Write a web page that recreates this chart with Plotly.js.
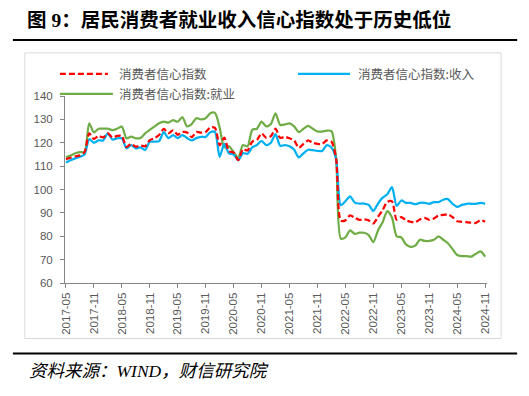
<!DOCTYPE html>
<html><head><meta charset="utf-8">
<script src="https://cdn.plot.ly/plotly-3.0.1.min.js"></script>
<style>html,body{margin:0;padding:0;background:#fff;} #chart{width:529px;height:396px;}</style>
</head><body><div id="chart"></div>
<script>
const months = [
'2017-05','2017-06','2017-07','2017-08','2017-09','2017-10','2017-11','2017-12',
'2018-01','2018-02','2018-03','2018-04','2018-05','2018-06','2018-07','2018-08','2018-09','2018-10','2018-11','2018-12',
'2019-01','2019-02','2019-03','2019-04','2019-05','2019-06','2019-07','2019-08','2019-09','2019-10','2019-11','2019-12',
'2020-01','2020-02','2020-03','2020-04','2020-05','2020-06','2020-07','2020-08','2020-09','2020-10','2020-11','2020-12',
'2021-01','2021-02','2021-03','2021-04','2021-05','2021-06','2021-07','2021-08','2021-09','2021-10','2021-11','2021-12',
'2022-01','2022-02','2022-03','2022-04','2022-05','2022-06','2022-07','2022-08','2022-09','2022-10','2022-11','2022-12',
'2023-01','2023-02','2023-03','2023-04','2023-05','2023-06','2023-07','2023-08','2023-09','2023-10','2023-11','2023-12',
'2024-01','2024-02','2024-03','2024-04','2024-05','2024-06','2024-07','2024-08','2024-09','2024-10','2024-11'];

const tickMonths = ['2017-05','2017-11','2018-05','2018-11','2019-05','2019-11','2020-05','2020-11',
'2021-05','2021-11','2022-05','2022-11','2023-05','2023-11','2024-05','2024-11'];

const cciTotal = [
113.0,113.6,114.2,114.6,116.0,124.0,121.6,122.9,
122.3,124.0,122.3,122.9,122.9,118.2,119.5,118.3,118.8,118.5,121.1,121.9,
123.3,125.9,124.1,125.3,123.4,124.6,124.4,122.4,124.6,124.3,124.6,126.6,
126.4,118.9,122.2,116.4,115.8,112.6,117.2,116.7,120.5,121.2,124.0,122.1,
122.8,126.0,122.1,122.5,121.9,121.0,117.8,119.5,121.0,120.0,119.5,119.5,
121.0,120.5,113.2,86.7,86.8,88.9,87.9,87.0,87.2,86.8,85.5,88.3,
91.2,94.7,94.9,87.1,88.2,86.8,86.2,86.0,87.2,87.9,87.0,87.6,
88.9,89.1,89.4,88.2,86.4,86.2,86.0,85.8,85.7,86.9,86.2];

const cciIncome = [
111.5,112.5,113.3,114.0,115.0,121.5,120.0,121.0,
121.0,124.0,121.4,121.9,121.9,117.6,119.0,117.6,118.0,116.9,120.4,120.5,
120.7,124.5,122.0,123.3,122.0,123.3,122.0,121.0,122.0,122.5,122.5,124.5,
124.6,114.0,119.5,115.5,115.0,112.5,115.5,115.3,118.0,119.0,120.8,119.0,
120.0,123.7,118.7,119.0,118.5,117.0,113.7,115.5,117.0,116.8,116.5,116.5,
119.0,118.0,113.0,93.3,95.0,97.1,94.4,94.0,94.0,93.4,90.8,94.0,
96.5,98.0,101.0,93.0,95.3,94.3,94.3,93.7,94.3,94.3,93.9,94.6,
94.6,95.6,95.9,93.9,92.6,93.4,93.9,93.9,93.9,94.3,94.0];

const cciJob = [
113.8,114.5,115.5,116.0,116.0,128.3,124.4,126.0,
126.0,126.0,125.4,126.0,126.9,121.9,122.6,121.9,122.0,124.0,125.5,126.9,
128.3,129.0,128.6,129.7,129.0,131.0,127.0,128.0,130.5,130.0,130.5,132.6,
132.8,126.5,118.0,118.5,116.0,113.5,119.0,118.5,125.5,126.0,129.0,127.0,
128.0,132.6,127.6,127.8,128.3,127.0,124.5,126.0,127.2,126.0,124.8,124.8,
125.2,125.0,113.5,79.0,79.5,82.5,81.0,81.5,81.5,80.5,77.5,82.5,
86.0,90.8,88.0,80.0,79.5,76.5,75.5,76.0,78.5,78.0,78.0,78.5,
80.0,78.5,77.0,74.5,72.0,71.5,71.5,71.3,72.5,73.5,71.3];

const seriesNames = ['消费者信心指数','消费者信心指数:收入','消费者信心指数:就业'];
const yTicks = [60,70,80,90,100,110,120,130,140];

const W = 529, H = 396;
const plotL = 65.1, plotR = 486.9, plotT = 96, plotB = 282.6;
function px(x){ return (x - plotL) / (plotR - plotL); }
function py(y){ return (plotB - y) / (plotB - plotT); }

const RED = '#FF0000', BLUE = '#00B0F0', GREEN = '#70AD47';
const GRAY = '#595959';

const traces = [
  {x: months, y: cciJob, name: seriesNames[2], type: 'scatter', mode: 'lines',
   line: {color: GREEN, width: 2.25, shape: 'spline', smoothing: 0.7}},
  {x: months, y: cciIncome, name: seriesNames[1], type: 'scatter', mode: 'lines',
   line: {color: BLUE, width: 2.25, shape: 'spline', smoothing: 0.7}},
  {x: months, y: cciTotal, name: seriesNames[0], type: 'scatter', mode: 'lines',
   line: {color: RED, width: 2.25, dash: '6px,3px', shape: 'spline', smoothing: 0.7}}
];

const legendItems = [
  {name: seriesNames[0], color: RED, dash: '6px,3px', x0: 60, x1: 108, y: 74, tx: 117},
  {name: seriesNames[1], color: BLUE, dash: 'solid', x0: 298, x1: 350, y: 74, tx: 356},
  {name: seriesNames[2], color: GREEN, dash: 'solid', x0: 60, x1: 113, y: 94, tx: 117}
];

const shapes = [
  {type: 'line', xref: 'paper', yref: 'paper', x0: px(13), x1: px(517), y0: py(40), y1: py(40),
   line: {color: '#000', width: 2}},
  {type: 'rect', xref: 'paper', yref: 'paper', x0: px(25), x1: px(501), y0: py(53), y1: py(338),
   line: {color: '#D9D9D9', width: 1}, layer: 'below'},
  {type: 'line', xref: 'paper', yref: 'paper', x0: px(13), x1: px(517), y0: py(353), y1: py(353),
   line: {color: '#000', width: 2}}
];
const annotations = [
  {xref: 'paper', yref: 'paper', x: px(27), y: py(370), xanchor: 'left', yanchor: 'middle',
   text: '<i>资料来源：WIND，财信研究院</i>', showarrow: false,
   font: {family: '"Liberation Serif", "Noto Sans CJK SC", serif', size: 17.5, color: '#000'}}
];
legendItems.forEach(it => {
  shapes.push({type: 'line', xref: 'paper', yref: 'paper', x0: px(it.x0), x1: px(it.x1),
    y0: py(it.y), y1: py(it.y), line: {color: it.color, width: 2.25, dash: it.dash}});
  annotations.push({xref: 'paper', yref: 'paper', x: px(it.tx), y: py(it.y), xanchor: 'left',
    yanchor: 'middle', text: it.name, showarrow: false,
    font: {family: '"Noto Sans CJK SC", sans-serif', size: 12.5, color: GRAY}});
});

const layout = {
  width: W, height: H,
  margin: {l: plotL, r: W - plotR, t: plotT, b: H - plotB, pad: 0},
  paper_bgcolor: '#fff', plot_bgcolor: '#fff',
  showlegend: false,
  title: {text: '图 9：居民消费者就业收入信心指数处于历史低位', xref: 'container', yref: 'container',
    x: 27 / W, xanchor: 'left', y: 1 - 20 / H, yanchor: 'middle',
    font: {family: '"Liberation Serif", "Noto Sans CJK SC", serif', size: 19.5, color: '#000', weight: 'bold'}},
  xaxis: {type: 'category', range: [-0.2, 90.4], tickmode: 'array', tickvals: tickMonths, ticktext: tickMonths,
    tickangle: -90, ticks: 'outside', ticklen: 4, tickcolor: '#868686', showline: true, linecolor: '#868686',
    linewidth: 1, showgrid: false, zeroline: false, fixedrange: true,
    tickfont: {family: '"Liberation Sans", Arial, sans-serif', size: 11.5, color: GRAY}},
  yaxis: {range: [60, 140], tickmode: 'array', tickvals: yTicks, ticks: 'outside', ticklen: 4,
    tickcolor: '#868686', showline: true, linecolor: '#868686', linewidth: 1, showgrid: false,
    zeroline: false, fixedrange: true, ticklabelstandoff: 5,
    tickfont: {family: '"Liberation Sans", Arial, sans-serif', size: 11.5, color: GRAY}},
  shapes: shapes,
  annotations: annotations
};

Plotly.newPlot('chart', traces, layout, {displayModeBar: false, staticPlot: true});
</script>
</body></html>
